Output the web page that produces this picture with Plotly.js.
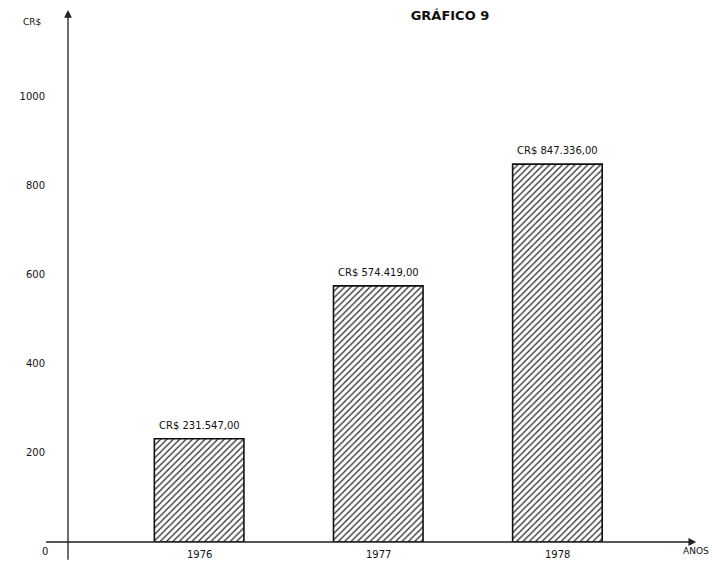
<!DOCTYPE html>
<html>
<head>
<meta charset="utf-8">
<script src="https://cdn.plot.ly/plotly-3.0.1.min.js"></script>
<style>html,body{margin:0;padding:0;background:#fff;}#chart{width:712px;height:567px;}</style>
</head>
<body>
<div id="chart"></div>
<script>
const years = [1976, 1977, 1978];
const yearLabels = ['1976', '1977', '1978'];
const valuesThousands = [231.547, 574.419, 847.336];
const valueLabels = ['CR$ 231.547,00', 'CR$ 574.419,00', 'CR$ 847.336,00'];
const yTicks = [200, 400, 600, 800, 1000];
const yTickLabels = ['200', '400', '600', '800', '1000'];

const font = 'DejaVu Sans, Liberation Sans, sans-serif';

const trace = {
  type: 'bar',
  x: years,
  y: valuesThousands,
  width: 0.5,
  marker: {
    color: '#ffffff',
    line: {color: '#111', width: 1.6},
    pattern: {shape: '/', fgcolor: '#333', bgcolor: '#ffffff', size: 4.5, solidity: 0.3}
  },
  hoverinfo: 'none'
};

const annotations = [];
years.forEach((yr, i) => {
  annotations.push({
    x: yr, y: valuesThousands[i], xref: 'x', yref: 'y',
    text: valueLabels[i], showarrow: false, yanchor: 'bottom', yshift: 6,
    font: {family: font, size: 10, color: '#111'}
  });
  annotations.push({
    x: yr, y: 0, xref: 'x', yref: 'y',
    text: yearLabels[i], showarrow: false, yanchor: 'top', yshift: -5,
    font: {family: font, size: 10, color: '#111'}
  });
});
// axis arrows
annotations.push({xref: 'paper', yref: 'paper', axref: 'paper', ayref: 'paper',
  x: 0, y: 1, ax: 0, ay: -0.036, text: '', showarrow: true, arrowhead: 2,
  arrowsize: 1.2, arrowwidth: 1.3, arrowcolor: '#222'});
annotations.push({xref: 'paper', yref: 'paper', axref: 'paper', ayref: 'paper',
  x: 0.994, y: 0, ax: -0.037, ay: 0, text: '', showarrow: true, arrowhead: 2,
  arrowsize: 1.2, arrowwidth: 1.3, arrowcolor: '#222'});
// axis labels
annotations.push({xref: 'paper', yref: 'paper', x: -0.075, y: 0.99, text: 'CR$',
  showarrow: false, font: {family: font, size: 9, color: '#111'}});
annotations.push({xref: 'paper', yref: 'paper', x: 1.017, y: 0, yshift: -2, text: 'ANOS',
  showarrow: false, xanchor: 'right', yanchor: 'top', font: {family: font, size: 9, color: '#111'}});
annotations.push({xref: 'paper', yref: 'paper', x: -0.036, y: 0, yshift: -2, text: '0',
  showarrow: false, xanchor: 'center', yanchor: 'top', font: {family: font, size: 10, color: '#111'}});

const layout = {
  width: 712, height: 567,
  margin: {l: 68, r: 12, t: 10, b: 25},
  paper_bgcolor: '#fff', plot_bgcolor: '#fff',
  showlegend: false,
  title: {text: '<b>GRÁFICO 9</b>', x: 0.632, y: 0.973, xanchor: 'center', yanchor: 'middle',
    font: {family: font, size: 13, color: '#111'}},
  xaxis: {range: [1975.268, 1978.796], showgrid: false, zeroline: false, showline: false,
    showticklabels: false, ticks: '', fixedrange: true},
  yaxis: {range: [0, 1193], showgrid: false, zeroline: false, showline: false,
    tickvals: yTicks, ticktext: yTickLabels, ticks: '', ticklabelstandoff: 22,
    tickfont: {family: font, size: 10, color: '#111'}, fixedrange: true},
  annotations: annotations,
  bargap: 0
};

Plotly.newPlot('chart', [trace], layout, {displayModeBar: false, staticPlot: true});
</script>
</body>
</html>
